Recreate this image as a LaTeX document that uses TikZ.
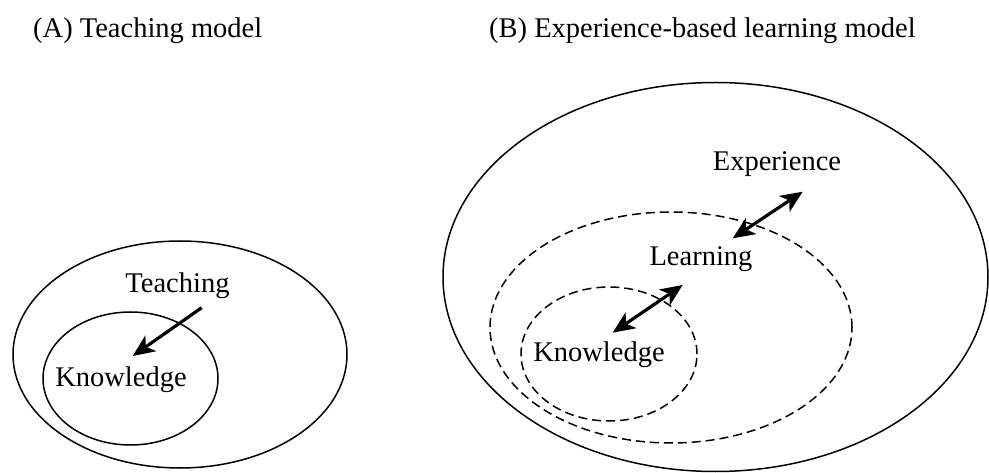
\documentclass[tikz,border=0pt]{standalone}
\usepackage{fontspec}
\setmainfont{Liberation Serif}
\usetikzlibrary{arrows.meta}

\tikzset{
    label/.style={font=\fontsize{28.5}{34}\selectfont, inner sep=0pt, anchor=base},
    ring/.style={line width=1.5pt},
    dashring/.style={line width=1.5pt, dash pattern=on 9pt off 5pt},
    bigtip/.tip={Stealth[length=22pt,width=19pt,inset=6pt]},
    oneway/.style={line width=3.2pt, -bigtip},
    twoway/.style={line width=3.2pt, bigtip-bigtip}
}

\begin{document}
\begin{tikzpicture}[x=1pt,y=-1pt]

    \useasboundingbox (0,0) rectangle (989,473);
    \clip (0,0) rectangle (989,473);

    \node[label, anchor=base west] (titleA) at (33,38) {(A) Teaching model};
    \node[label, anchor=base west] (titleB) at (489,38) {(B) Experience-based learning model};

    \draw[ring] (180,354.5) ellipse [x radius=167pt, y radius=113.5pt];
    \draw[ring] (130.5,378.5) ellipse [x radius=87.5pt, y radius=66.5pt];

    \node[label] (teachA) at (177.5,293) {Teaching};
    \node[label] (knowA) at (121,387) {Knowledge};

    \coordinate (teachfrom) at (201.7,307.7);
    \coordinate (teachto) at (132.7,356);
    \draw[oneway] (teachfrom) -- (teachto);

    \draw[ring] (715.5,277) ellipse [x radius=272.5pt, y radius=194.5pt];
    \draw[dashring] (671,327.5) ellipse [x radius=181pt, y radius=115.5pt];
    \draw[dashring] (609,354) ellipse [x radius=88pt, y radius=67pt];

    \node[label] (expB) at (777,171) {Experience};
    \node[label] (learnB) at (701,266) {Learning};
    \node[label] (knowB) at (599,362) {Knowledge};

    \coordinate (expend) at (802.7,191.7);
    \coordinate (learnend) at (732.7,238.3);
    \draw[twoway] (learnend) -- (expend);

    \coordinate (learnlow) at (682.7,285);
    \coordinate (knowend) at (612.7,332.7);
    \draw[twoway] (knowend) -- (learnlow);

\end{tikzpicture}
\end{document}
